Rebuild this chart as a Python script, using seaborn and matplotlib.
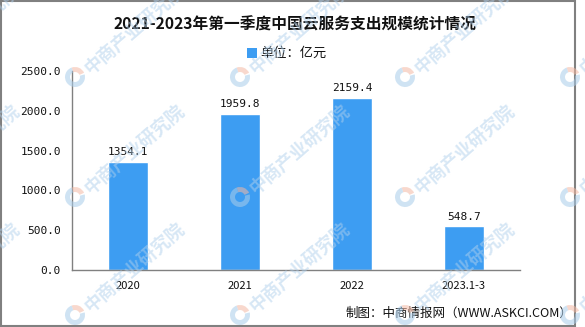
import matplotlib
matplotlib.use("Agg")
import matplotlib.pyplot as plt
import seaborn as sns
import pandas as pd
from matplotlib.patches import Rectangle, Wedge

categories = ["2020", "2021", "2022", "2023.1-3"]
values = [1354.1, 1959.8, 2159.4, 548.7]
y_ticks = [0, 500, 1000, 1500, 2000, 2500]

title = "2021-2023年第一季度中国云服务支出规模统计情况"
legend_label = "单位：亿元"
source = "制图：中商情报网（WWW.ASKCI.COM）"
watermark = "中商产业研究院"

bar_color = "#3D9DF2"
axis_color = "#808080"

sns.set_theme(style="white")
plt.rcParams["font.family"] = ["Noto Sans CJK SC", "DejaVu Sans"]

df = pd.DataFrame({"year": categories, "value": values})

W, H = 585, 327
fig = plt.figure(figsize=(W / 100, H / 100), dpi=100)
ax = fig.add_axes([72 / W, 1 - 270 / H, 448 / W, 199 / H])

sns.barplot(data=df, x="year", y="value", color=bar_color, width=0.36,
            saturation=1, ax=ax)

mono = ["DejaVu Sans Mono", "DejaVu Sans"]
for i, v in enumerate(values):
    ax.text(i, v + 60, f"{v:.1f}", ha="center", va="bottom",
            fontsize=8, color="#111111", family=mono)

ax.set_xlim(-0.5, 3.5)
ax.set_ylim(0, 2500)
ax.set_yticks(y_ticks)
ax.set_yticklabels([f"{t:.1f}" for t in y_ticks], fontsize=8, family=mono)
ax.set_xticks(range(len(categories)))
ax.set_xticklabels(categories, fontsize=8)
ax.set_xticks([-0.5, 0.5, 1.5, 2.5, 3.5], minor=True)
ax.tick_params(axis="x", which="major", length=0, pad=8, colors="#111111")
ax.tick_params(axis="x", which="minor", length=5, width=1, color=axis_color,
               direction="out")
ax.tick_params(axis="y", length=5, width=1, direction="out",
               colors="#111111", pad=3)
ax.tick_params(axis="y", color=axis_color)
ax.set_xlabel("")
ax.set_ylabel("")
for side in ["top", "right"]:
    ax.spines[side].set_visible(False)
for side in ["left", "bottom"]:
    ax.spines[side].set_color(axis_color)
    ax.spines[side].set_linewidth(1)

# outer frame
fig.patches.append(Rectangle((1 / W, 1 - 326 / H), 574 / W, 325 / H,
                             transform=fig.transFigure, fill=False,
                             edgecolor=axis_color, linewidth=1.5))

fig.text(295 / W, 1 - 25 / H, title, ha="center", va="center",
         fontsize=11.3, fontweight="bold", color="#111111")

fig.patches.append(Rectangle((247 / W, 1 - 58 / H), 10 / W, 10 / H,
                             transform=fig.transFigure, facecolor=bar_color,
                             edgecolor="none"))
fig.text(260 / W, 1 - 53 / H, legend_label, ha="left", va="center",
         fontsize=9.5, color="#111111")

fig.text(572 / W, 1 - 313 / H, source, ha="right", va="center",
         fontsize=9, color="#111111")

# tiled translucent watermark overlay (pixel coordinates)
wm = fig.add_axes([0, 0, 1, 1], zorder=10)
wm.set_xlim(0, W)
wm.set_ylim(H, 0)
wm.axis("off")
wm.patch.set_alpha(0)
for y0 in [77, 197, 315]:
    for x0 in [-90, 75, 240, 405, 570]:
        wm.add_patch(Wedge((x0, y0), 10, -110, -25, width=5,
                           facecolor="#f4b9a4", edgecolor="none", alpha=0.55))
        wm.add_patch(Wedge((x0, y0), 10, -15, 250, width=5,
                           facecolor="#a9cdea", edgecolor="none", alpha=0.55))
        wm.text(x0 + 12, y0 - 6, watermark, rotation=41, rotation_mode="anchor",
                ha="left", va="center", fontsize=13, fontweight="bold",
                color="#b0d0ec", alpha=0.5)

fig.savefig("out.png", dpi=100)
